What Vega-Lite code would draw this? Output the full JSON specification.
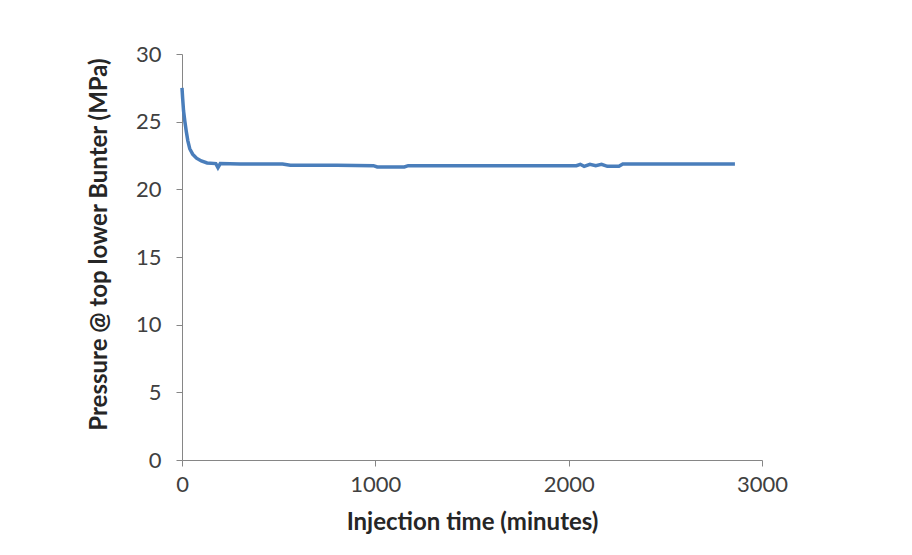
{
  "$schema": "https://vega.github.io/schema/vega-lite/v6.json",
  "width": 580,
  "height": 406,
  "autosize": {"type": "none"},
  "padding": {"left": 182, "top": 54, "right": 150, "bottom": 95},
  "background": "white",
  "config": {
    "view": {"stroke": null},
    "font": "Lato",
    "axis": {
      "grid": false,
      "domainColor": "#868686",
      "tickColor": "#868686",
      "tickSize": 6,
      "labelColor": "#404040",
      "labelFontSize": 22,
      "labelFont": "Lato",
      "labelFlush": false,
      "titleFont": "Lato",
      "titleFontSize": 24,
      "titleFontWeight": "bold",
      "titleColor": "#262626"
    }
  },
  "data": {
    "values": [
      {"t": 0, "p": 27.5},
      {"t": 3, "p": 26.8},
      {"t": 8, "p": 25.8},
      {"t": 15, "p": 25.0},
      {"t": 22, "p": 24.3},
      {"t": 30, "p": 23.6},
      {"t": 40, "p": 23.0},
      {"t": 55, "p": 22.6},
      {"t": 75, "p": 22.3},
      {"t": 100, "p": 22.1},
      {"t": 130, "p": 21.95},
      {"t": 175, "p": 21.9},
      {"t": 186, "p": 21.6},
      {"t": 198, "p": 21.9},
      {"t": 300, "p": 21.88},
      {"t": 450, "p": 21.88},
      {"t": 520, "p": 21.87},
      {"t": 560, "p": 21.78},
      {"t": 800, "p": 21.78},
      {"t": 990, "p": 21.75},
      {"t": 1010, "p": 21.65},
      {"t": 1150, "p": 21.65},
      {"t": 1170, "p": 21.75},
      {"t": 1500, "p": 21.75},
      {"t": 2040, "p": 21.75},
      {"t": 2060, "p": 21.85},
      {"t": 2080, "p": 21.7},
      {"t": 2110, "p": 21.85},
      {"t": 2140, "p": 21.75},
      {"t": 2170, "p": 21.85},
      {"t": 2200, "p": 21.7},
      {"t": 2260, "p": 21.7},
      {"t": 2280, "p": 21.87},
      {"t": 2600, "p": 21.87},
      {"t": 2860, "p": 21.87}
    ]
  },
  "mark": {"type": "line", "color": "#4A7EBB", "strokeWidth": 3.5, "interpolate": "linear"},
  "encoding": {
    "x": {
      "field": "t",
      "type": "quantitative",
      "scale": {"domain": [0, 3000], "nice": false},
      "axis": {"values": [0, 1000, 2000, 3000], "format": "d", "title": "Injection time (minutes)", "titlePadding": 15, "labelPadding": 8}
    },
    "y": {
      "field": "p",
      "type": "quantitative",
      "scale": {"domain": [0, 30], "nice": false},
      "axis": {"values": [0, 5, 10, 15, 20, 25, 30], "title": "Pressure @ top lower Bunter (MPa)", "titlePadding": 24, "labelPadding": 15, "titleY": 190}
    }
  }
}
